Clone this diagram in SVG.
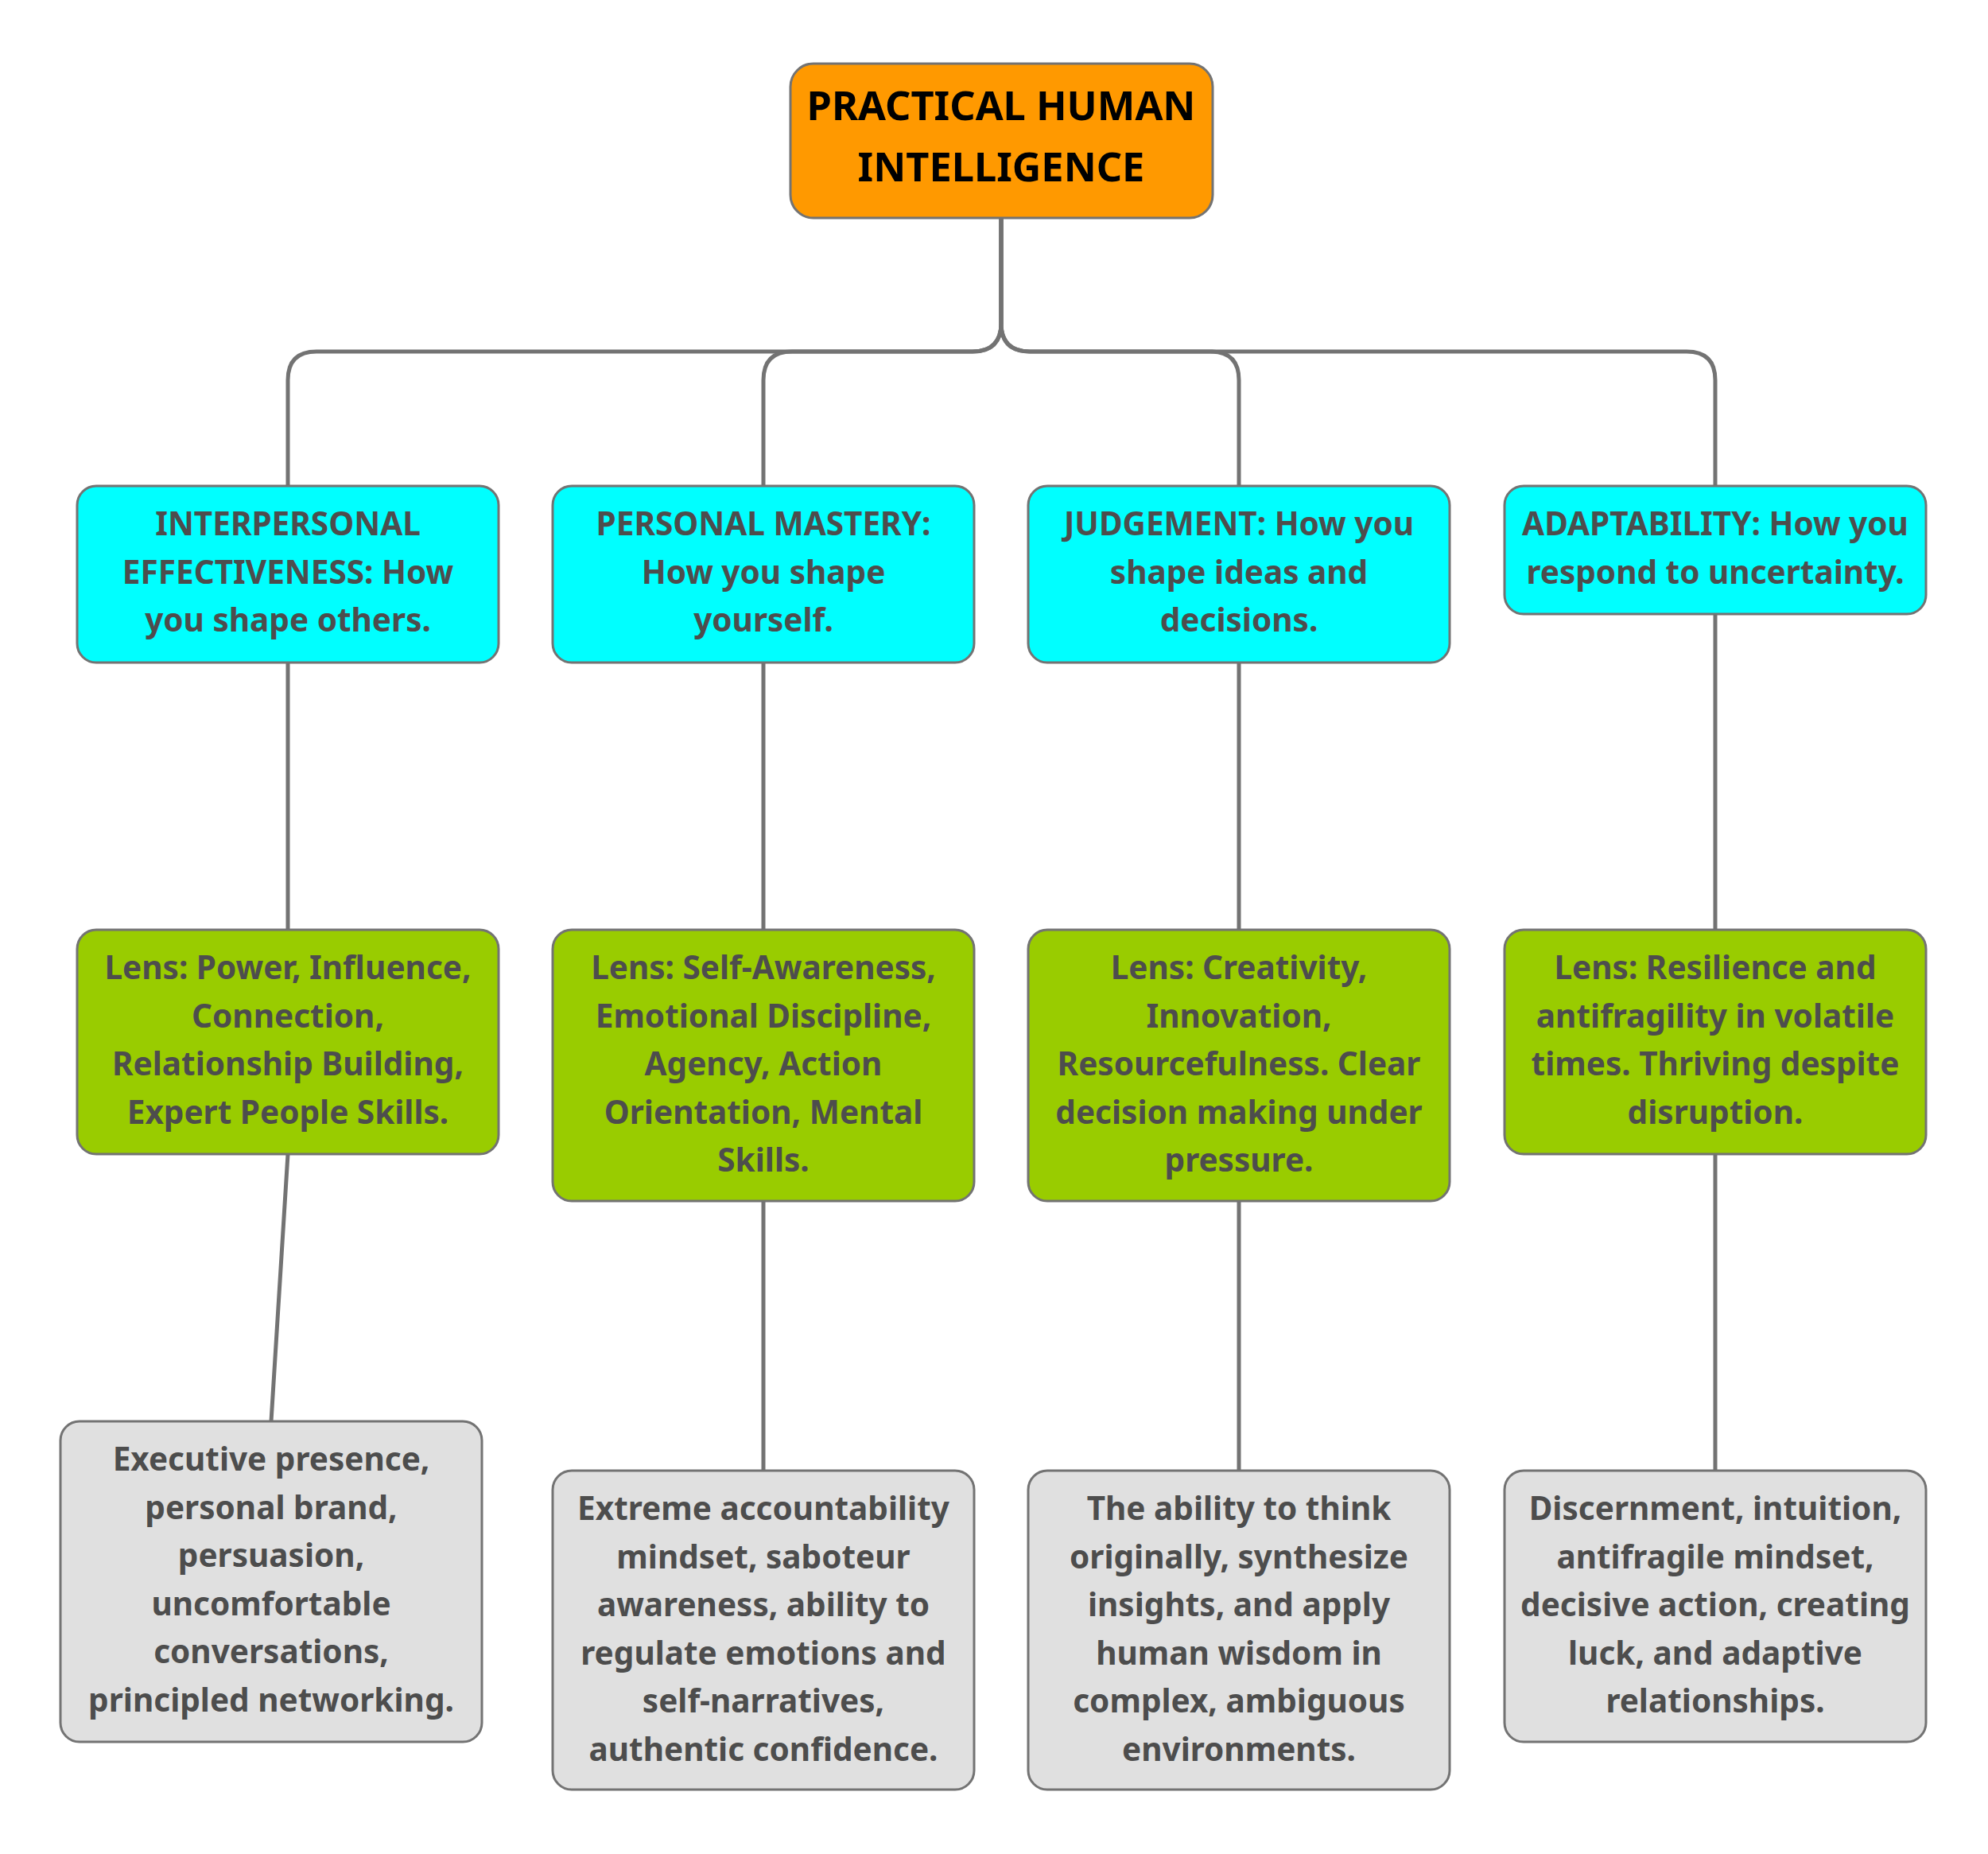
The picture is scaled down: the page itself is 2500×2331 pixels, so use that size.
<svg xmlns="http://www.w3.org/2000/svg" width="2500" height="2331" viewBox="0 0 2500 2331">
<style>
.box{stroke:#737373;stroke-width:3}
.root{fill:#FF9900}
.l1{fill:#00FFFF}
.l2{fill:#99CC00}
.l3{fill:#E0E0E0}
text{font-family:"Noto Sans","Open Sans","DejaVu Sans",sans-serif;font-weight:bold;text-anchor:middle}
.t{font-size:40.5px;fill:#4D4D4D}
.rt{font-size:50.5px;fill:#000000}
.con{fill:none;stroke:#737373;stroke-width:5}
</style>
<rect width="2500" height="2331" fill="#FFFFFF"/>
<g id="connectors">
<path class="con" d="M1259,274 V406 Q1259,442 1223,442 H398 Q362,442 362,478 V611"/>
<path class="con" d="M1259,274 V406 Q1259,442 1223,442 H996 Q960,442 960,478 V611"/>
<path class="con" d="M1259,274 V406 Q1259,442 1295,442 H1522 Q1558,442 1558,478 V611"/>
<path class="con" d="M1259,274 V406 Q1259,442 1295,442 H2121 Q2157,442 2157,478 V611"/>
<path class="con" d="M362,833 V1169"/>
<path class="con" d="M960,833 V1169"/>
<path class="con" d="M1558,833 V1169"/>
<path class="con" d="M2157,772 V1169"/>
<path class="con" d="M362,1451 L341,1787"/>
<path class="con" d="M960,1510 V1849"/>
<path class="con" d="M1558,1510 V1849"/>
<path class="con" d="M2157,1451 V1849"/>
</g>
<g id="root">
<rect class="box root" x="994" y="80" width="531" height="194" rx="29"/>
<text class="rt"><tspan x="1259" y="151">PRACTICAL HUMAN</tspan><tspan x="1259" y="228">INTELLIGENCE</tspan></text>
</g>
<g id="interpersonal">
<rect class="box l1" x="97" y="611" width="530" height="222" rx="24"/>
<text class="t"><tspan x="362" y="673">INTERPERSONAL</tspan><tspan x="362" y="733.5">EFFECTIVENESS: How</tspan><tspan x="362" y="794">you shape others.</tspan></text>
</g>
<g id="personal-mastery">
<rect class="box l1" x="695" y="611" width="530" height="222" rx="24"/>
<text class="t"><tspan x="960" y="673">PERSONAL MASTERY:</tspan><tspan x="960" y="733.5">How you shape</tspan><tspan x="960" y="794">yourself.</tspan></text>
</g>
<g id="judgement">
<rect class="box l1" x="1293" y="611" width="530" height="222" rx="24"/>
<text class="t"><tspan x="1558" y="673">JUDGEMENT: How you</tspan><tspan x="1558" y="733.5">shape ideas and</tspan><tspan x="1558" y="794">decisions.</tspan></text>
</g>
<g id="adaptability">
<rect class="box l1" x="1892" y="611" width="530" height="161" rx="24"/>
<text class="t"><tspan x="2157" y="673">ADAPTABILITY: How you</tspan><tspan x="2157" y="733.5">respond to uncertainty.</tspan></text>
</g>
<g id="lens-interpersonal">
<rect class="box l2" x="97" y="1169" width="530" height="282" rx="24"/>
<text class="t"><tspan x="362" y="1231">Lens: Power, Influence,</tspan><tspan x="362" y="1291.5">Connection,</tspan><tspan x="362" y="1352">Relationship Building,</tspan><tspan x="362" y="1412.5">Expert People Skills.</tspan></text>
</g>
<g id="lens-personal">
<rect class="box l2" x="695" y="1169" width="530" height="341" rx="24"/>
<text class="t"><tspan x="960" y="1231">Lens: Self-Awareness,</tspan><tspan x="960" y="1291.5">Emotional Discipline,</tspan><tspan x="960" y="1352">Agency, Action</tspan><tspan x="960" y="1412.5">Orientation, Mental</tspan><tspan x="960" y="1473">Skills.</tspan></text>
</g>
<g id="lens-judgement">
<rect class="box l2" x="1293" y="1169" width="530" height="341" rx="24"/>
<text class="t"><tspan x="1558" y="1231">Lens: Creativity,</tspan><tspan x="1558" y="1291.5">Innovation,</tspan><tspan x="1558" y="1352">Resourcefulness. Clear</tspan><tspan x="1558" y="1412.5">decision making under</tspan><tspan x="1558" y="1473">pressure.</tspan></text>
</g>
<g id="lens-adaptability">
<rect class="box l2" x="1892" y="1169" width="530" height="282" rx="24"/>
<text class="t"><tspan x="2157" y="1231">Lens: Resilience and</tspan><tspan x="2157" y="1291.5">antifragility in volatile</tspan><tspan x="2157" y="1352">times. Thriving despite</tspan><tspan x="2157" y="1412.5">disruption.</tspan></text>
</g>
<g id="skills-interpersonal">
<rect class="box l3" x="76" y="1787" width="530" height="403" rx="24"/>
<text class="t"><tspan x="341" y="1849">Executive presence,</tspan><tspan x="341" y="1909.5">personal brand,</tspan><tspan x="341" y="1970">persuasion,</tspan><tspan x="341" y="2030.5">uncomfortable</tspan><tspan x="341" y="2091">conversations,</tspan><tspan x="341" y="2151.5">principled networking.</tspan></text>
</g>
<g id="skills-personal">
<rect class="box l3" x="695" y="1849" width="530" height="401" rx="24"/>
<text class="t"><tspan x="960" y="1911">Extreme accountability</tspan><tspan x="960" y="1971.5">mindset, saboteur</tspan><tspan x="960" y="2032">awareness, ability to</tspan><tspan x="960" y="2092.5">regulate emotions and</tspan><tspan x="960" y="2153">self-narratives,</tspan><tspan x="960" y="2213.5">authentic confidence.</tspan></text>
</g>
<g id="skills-judgement">
<rect class="box l3" x="1293" y="1849" width="530" height="401" rx="24"/>
<text class="t"><tspan x="1558" y="1911">The ability to think</tspan><tspan x="1558" y="1971.5">originally, synthesize</tspan><tspan x="1558" y="2032">insights, and apply</tspan><tspan x="1558" y="2092.5">human wisdom in</tspan><tspan x="1558" y="2153">complex, ambiguous</tspan><tspan x="1558" y="2213.5">environments.</tspan></text>
</g>
<g id="skills-adaptability">
<rect class="box l3" x="1892" y="1849" width="530" height="341" rx="24"/>
<text class="t"><tspan x="2157" y="1911">Discernment, intuition,</tspan><tspan x="2157" y="1971.5">antifragile mindset,</tspan><tspan x="2157" y="2032">decisive action, creating</tspan><tspan x="2157" y="2092.5">luck, and adaptive</tspan><tspan x="2157" y="2153">relationships.</tspan></text>
</g>
</svg>
